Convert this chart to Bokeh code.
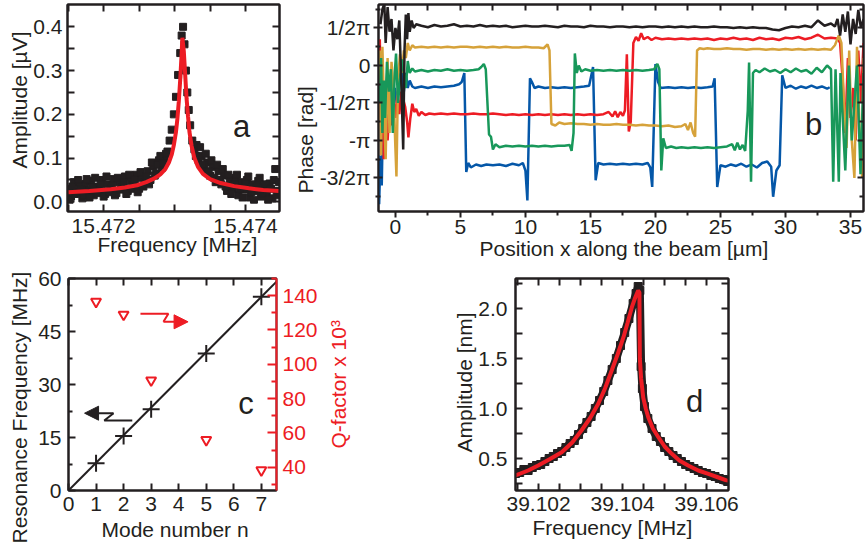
import numpy as np
from bokeh.plotting import figure
from bokeh.layouts import column, row
from bokeh.models import Range1d, LinearAxis, FixedTicker, PrintfTickFormatter, Label, Arrow, NormalHead, Title
from bokeh.embed import file_html
from bokeh.resources import INLINE

FONT = "Liberation Sans"
INK = "#231f20"
RED = "#ed1c24"
GOLD = "#d6a23a"
GREEN = "#18985a"
BLUE = "#0557a8"

# ---------------- data: panel a (mode 2 resonance) ----------------
points_a = [
    (15.47150, 0.030), (15.47154, 0.012), (15.47158, 0.045), (15.47162, 0.022), (15.47166, 0.038),
    (15.47170, 0.008), (15.47174, 0.041), (15.47178, 0.025), (15.47182, 0.048), (15.47186, 0.015),
    (15.47190, 0.035), (15.47194, 0.028), (15.47198, 0.050), (15.47202, 0.018), (15.47206, 0.040),
    (15.47210, 0.030), (15.47214, 0.052), (15.47218, 0.020), (15.47222, 0.045), (15.47226, 0.033),
    (15.47230, 0.058), (15.47234, 0.025), (15.47238, 0.048), (15.47242, 0.038), (15.47246, 0.062),
    (15.47250, 0.030), (15.47254, 0.055), (15.47258, 0.045), (15.47262, 0.070), (15.47266, 0.050),
    (15.47270, 0.082), (15.47274, 0.065), (15.47278, 0.095), (15.47282, 0.078), (15.47286, 0.100),
    (15.47290, 0.115), (15.47293, 0.140), (15.47296, 0.165), (15.47299, 0.200), (15.47302, 0.240),
    (15.47305, 0.290), (15.47308, 0.340), (15.47310, 0.380), (15.47312, 0.400), (15.47314, 0.360),
    (15.47316, 0.300), (15.47318, 0.250), (15.47320, 0.210), (15.47322, 0.175), (15.47325, 0.140),
    (15.47328, 0.120), (15.47331, 0.130), (15.47334, 0.095), (15.47338, 0.105), (15.47342, 0.075),
    (15.47346, 0.090), (15.47350, 0.060), (15.47354, 0.080), (15.47358, 0.045), (15.47362, 0.070),
    (15.47366, 0.040), (15.47370, 0.060), (15.47374, 0.025), (15.47378, 0.050), (15.47382, 0.030),
    (15.47386, 0.055), (15.47390, 0.015), (15.47394, 0.045), (15.47398, 0.028), (15.47402, 0.050),
    (15.47406, 0.010), (15.47410, 0.040), (15.47414, 0.025), (15.47418, 0.048), (15.47422, 0.012),
    (15.47426, 0.035), (15.47430, 0.020), (15.47434, 0.042), (15.47438, 0.008), (15.47442, 0.075),
    (15.47446, 0.025),
    (15.47152, 0.005), (15.47156, 0.035), (15.47160, 0.018), (15.47164, 0.050), (15.47168, 0.028),
    (15.47172, 0.015), (15.47176, 0.052), (15.47180, 0.010), (15.47184, 0.032), (15.47188, 0.055),
    (15.47192, 0.020), (15.47196, 0.040), (15.47200, 0.012), (15.47204, 0.058), (15.47208, 0.022),
    (15.47212, 0.038), (15.47216, 0.015), (15.47220, 0.055), (15.47224, 0.028), (15.47228, 0.045),
    (15.47232, 0.018), (15.47236, 0.062), (15.47240, 0.030), (15.47244, 0.050), (15.47248, 0.022),
    (15.47252, 0.068), (15.47256, 0.035), (15.47260, 0.058), (15.47264, 0.040), (15.47268, 0.090),
    (15.47272, 0.060), (15.47276, 0.085), (15.47280, 0.105), (15.47284, 0.088), (15.47288, 0.110),
    (15.47330, 0.105), (15.47336, 0.125), (15.47340, 0.085), (15.47344, 0.110), (15.47348, 0.070),
    (15.47352, 0.095), (15.47356, 0.055), (15.47360, 0.085), (15.47364, 0.050), (15.47368, 0.075),
    (15.47372, 0.035), (15.47376, 0.062), (15.47380, 0.018), (15.47384, 0.040), (15.47388, 0.062),
    (15.47392, 0.030), (15.47396, 0.010), (15.47400, 0.042), (15.47404, 0.058), (15.47408, 0.022),
    (15.47412, 0.005), (15.47416, 0.035), (15.47420, 0.055), (15.47424, 0.018), (15.47428, 0.040),
    (15.47432, 0.005), (15.47436, 0.030), (15.47440, 0.050), (15.47444, 0.015), (15.47447, 0.045),
]
fit_a = [
    (15.47150, 0.022), (15.47180, 0.025), (15.47210, 0.029), (15.47230, 0.033), (15.47247, 0.038),
    (15.47260, 0.045), (15.47271, 0.053), (15.47280, 0.063), (15.47287, 0.075), (15.47292, 0.090),
    (15.47296, 0.108), (15.47299, 0.130), (15.47302, 0.160), (15.47304, 0.190), (15.47306, 0.230),
    (15.47308, 0.280), (15.47310, 0.340), (15.47311, 0.375), (15.47313, 0.345), (15.47315, 0.290),
    (15.47317, 0.235), (15.47319, 0.195), (15.47321, 0.160), (15.47324, 0.128), (15.47328, 0.100),
    (15.47333, 0.080), (15.47340, 0.064), (15.47350, 0.052), (15.47365, 0.043), (15.47384, 0.036),
    (15.47405, 0.031), (15.47425, 0.027), (15.47447, 0.025),
]

# ---------------- data: panel b (phase along the beam, in units of pi) ----------------
black_b = [
    (-1.15, 0.55), (-1.0, 0.75), (-0.85, 0.82), (-0.75, 0.3), (-0.6, 0.78), (-0.45, 0.45), (-0.3, 0.62),
    (-0.15, 0.2), (0.0, 0.5), (0.15, 0.35), (0.3, 0.6), (0.45, -0.2), (0.6, -1.12), (0.7, 0.2), (0.8, 0.68),
    (0.9, 0.35), (1.0, 0.7), (1.1, 0.45), (1.25, 0.6), (1.4, 0.5), (1.6, 0.55),
    (2.0, 0.53), (2.5, 0.51), (3.0, 0.54), (3.5, 0.52), (4.0, 0.53), (4.5, 0.55), (5.0, 0.52), (5.5, 0.53),
    (6.0, 0.52), (6.5, 0.54), (7.0, 0.52), (7.5, 0.53), (8.0, 0.52), (8.5, 0.53), (9.0, 0.51), (9.5, 0.52),
    (10.0, 0.53), (10.5, 0.52), (11.0, 0.52), (11.5, 0.53), (12.0, 0.52), (12.5, 0.51), (13.0, 0.53),
    (13.5, 0.52), (14.0, 0.52), (14.5, 0.51), (15.0, 0.53), (15.5, 0.52), (16.0, 0.52), (16.5, 0.51),
    (17.0, 0.52), (17.5, 0.52), (18.0, 0.51), (18.5, 0.52), (19.0, 0.51), (19.5, 0.52), (20.0, 0.52),
    (20.5, 0.51), (21.0, 0.52), (21.5, 0.51), (22.0, 0.52), (22.5, 0.51), (23.0, 0.52), (23.5, 0.51),
    (24.0, 0.51), (24.5, 0.52), (25.0, 0.51), (25.5, 0.51), (26.0, 0.50), (26.5, 0.51), (27.0, 0.50),
    (27.5, 0.51), (28.0, 0.50), (28.5, 0.50), (29.0, 0.48), (29.5, 0.47), (30.0, 0.50), (30.5, 0.52),
    (31.0, 0.51), (31.5, 0.53), (32.0, 0.51), (32.5, 0.60), (33.0, 0.53), (33.5, 0.56),
    (33.8, 0.52), (34.0, 0.62), (34.2, 0.40), (34.4, 0.68), (34.6, 0.45), (34.8, 0.72), (35.0, 0.28),
    (35.2, 0.62), (35.4, 0.42), (35.6, 0.74), (35.8, 0.50), (36.0, 0.62),
]
red_b = [
    (-1.2, 0.35), (-1.1, -0.8), (-1.0, 0.05), (-0.9, -1.25), (-0.75, -0.45), (-0.6, -1.0), (-0.45, -0.55),
    (-0.3, -0.8), (-0.15, -0.45), (0.0, -0.7), (0.15, -0.4), (0.3, -0.65), (0.45, -0.35), (0.6, -0.45),
    (0.75, -0.55), (0.9, -0.75), (1.0, -0.96), (1.15, -0.7), (1.3, -0.51), (1.45, -0.62), (1.6, -0.58),
    (1.8, -0.67), (2.0, -0.62), (2.3, -0.66), (2.6, -0.64),
    (3.0, -0.65), (3.5, -0.64), (4.0, -0.65), (4.5, -0.64), (5.0, -0.65), (5.5, -0.65), (6.0, -0.64),
    (6.5, -0.65), (7.0, -0.65), (7.5, -0.64), (8.0, -0.65), (8.5, -0.66), (9.0, -0.65), (9.5, -0.66),
    (10.0, -0.65), (10.5, -0.66), (11.0, -0.65), (11.5, -0.66), (12.0, -0.65), (12.5, -0.66), (13.0, -0.65),
    (13.5, -0.66), (14.0, -0.65), (14.5, -0.66), (15.0, -0.65), (15.5, -0.66), (16.0, -0.65), (16.4, -0.62),
    (16.7, -0.68), (16.9, -0.61), (17.1, -0.69), (17.3, -0.62), (17.5, -0.67), (17.65, -0.60), (17.8, 0.15),
    (17.95, -0.88), (18.1, -0.75), (18.3, 0.30), (18.5, 0.38), (18.7, 0.33), (18.9, 0.43), (19.1, 0.35),
    (19.4, 0.38), (19.7, 0.34), (20.0, 0.37), (20.5, 0.35), (21.0, 0.36), (21.5, 0.35), (22.0, 0.36),
    (22.5, 0.35), (23.0, 0.36), (23.5, 0.35), (24.0, 0.36), (24.5, 0.34), (25.0, 0.36), (25.5, 0.35),
    (26.0, 0.37), (26.5, 0.35), (27.0, 0.36), (27.5, 0.34), (28.0, 0.37), (28.5, 0.35), (29.0, 0.36),
    (29.5, 0.34), (30.0, 0.37), (30.5, 0.36), (31.0, 0.38), (31.5, 0.35), (32.0, 0.37), (32.5, 0.41),
    (33.0, 0.36), (33.5, 0.37), (34.0, 0.36),
    (34.2, 0.30), (34.4, -0.2), (34.6, -0.9), (34.8, 0.1), (35.0, -0.7), (35.2, -0.3), (35.4, -1.0),
    (35.6, 0.2), (35.8, -0.5), (36.0, 0.3),
]
gold_b = [
    (-1.2, 0.2), (-1.1, -1.2), (-1.0, 0.25), (-0.9, -0.4), (-0.75, -1.25), (-0.6, 0.1), (-0.45, -0.9),
    (-0.3, 0.05), (-0.15, -0.3), (0.0, -1.1), (0.08, -1.48), (0.2, -0.2), (0.35, 0.15), (0.5, -0.1),
    (0.65, 0.2), (0.8, 0.1), (0.95, 0.3), (1.1, 0.2), (1.3, 0.27), (1.5, 0.24),
    (2.0, 0.25), (2.5, 0.24), (3.0, 0.25), (3.5, 0.24), (4.0, 0.25), (4.5, 0.24), (5.0, 0.25), (5.5, 0.25),
    (6.0, 0.24), (6.5, 0.25), (7.0, 0.24), (7.5, 0.25), (8.0, 0.24), (8.5, 0.25), (9.0, 0.24), (9.5, 0.24),
    (10.0, 0.25), (10.5, 0.24), (11.0, 0.24), (11.4, 0.23), (11.7, 0.28), (11.85, 0.2), (12.0, -0.78),
    (12.3, -0.80), (12.6, -0.76), (13.0, -0.78), (13.5, -0.77), (14.0, -0.78), (14.5, -0.78), (15.0, -0.79),
    (15.5, -0.78), (16.0, -0.79), (16.5, -0.79), (17.0, -0.78), (17.5, -0.79), (18.0, -0.79), (18.5, -0.80),
    (19.0, -0.79), (19.5, -0.80), (20.0, -0.80), (20.5, -0.81), (21.0, -0.80), (21.5, -0.82), (22.0, -0.81),
    (22.3, -0.78), (22.5, -0.86), (22.7, -0.76), (22.9, -0.90), (23.05, -0.95), (23.2, 0.2), (23.4, 0.23),
    (23.7, 0.22), (24.0, 0.23), (24.5, 0.22), (25.0, 0.22), (25.5, 0.23), (26.0, 0.22), (26.5, 0.22),
    (27.0, 0.21), (27.5, 0.22), (28.0, 0.22), (28.5, 0.21), (29.0, 0.22), (29.5, 0.21), (30.0, 0.22),
    (30.5, 0.21), (31.0, 0.22), (31.5, 0.21), (32.0, 0.22), (32.5, 0.21), (33.0, 0.22), (33.5, 0.21),
    (33.8, 0.27), (34.1, 0.40), (34.3, 0.30), (34.5, -0.5), (34.7, -1.1), (34.9, 0.2), (35.1, -1.0),
    (35.3, -1.5), (35.5, 0.25), (35.7, -0.9), (35.9, -1.5), (36.0, 0.1),
]
green_b = [
    (-1.2, -0.5), (-1.1, 0.1), (-1.0, -0.9), (-0.9, -0.2), (-0.8, -0.7), (-0.65, 0.05), (-0.5, -0.35),
    (-0.35, -0.05), (-0.2, -0.9), (-0.05, -0.1), (0.05, 0.16), (0.2, -0.5), (0.35, -0.2), (0.5, 0.08),
    (0.65, -0.1), (0.8, -0.3), (0.95, 0.06), (1.1, -0.1), (1.3, -0.04), (1.5, -0.08),
    (2.0, -0.06), (2.5, -0.08), (3.0, -0.06), (3.5, -0.07), (4.0, -0.05), (4.5, -0.07), (5.0, -0.06),
    (5.5, -0.07), (6.0, -0.06), (6.4, -0.05), (6.6, -0.02), (6.8, 0.02), (6.95, -0.05), (7.05, -0.4),
    (7.2, -0.92), (7.35, -0.95), (7.5, -1.12), (7.7, -1.05), (8.0, -1.09), (8.5, -1.07), (9.0, -1.08),
    (9.5, -1.07), (10.0, -1.08), (10.5, -1.07), (11.0, -1.08), (11.5, -1.07), (12.0, -1.08), (12.5, -1.07),
    (13.0, -1.07), (13.4, -1.06), (13.55, -1.14), (13.7, -0.9), (13.8, 0.16), (13.95, -0.1), (14.1, 0.0),
    (14.3, -0.08), (14.6, -0.05), (15.0, -0.07), (15.5, -0.06), (16.0, -0.07), (16.5, -0.06), (17.0, -0.07),
    (17.5, -0.06), (18.0, -0.07), (18.5, -0.06), (19.0, -0.07), (19.5, -0.06), (19.9, -0.05), (20.15, 0.02),
    (20.3, -0.05), (20.45, -1.40), (20.6, -0.97), (20.8, -1.1), (21.2, -1.08), (21.6, -1.10), (22.0, -1.09),
    (22.5, -1.10), (23.0, -1.09), (23.5, -1.10), (24.0, -1.09), (24.5, -1.10), (25.0, -1.09), (25.5, -1.08),
    (25.9, -1.05), (26.1, -1.13), (26.3, -1.03), (26.5, -1.12), (26.7, -1.06), (26.9, -1.14), (27.1, -0.6),
    (27.2, 0.04), (27.35, -1.55), (27.5, -0.1), (27.7, -0.06), (28.0, -0.09), (28.4, -0.04), (28.8, -0.08),
    (29.2, -0.06), (29.6, -0.10), (30.0, -0.05), (30.4, -0.09), (30.8, -0.04), (31.2, -0.08), (31.6, -0.06),
    (32.0, -0.11), (32.4, -0.03), (32.8, -0.09), (33.2, 0.0), (33.5, -0.05),
    (33.67, -1.55), (33.85, -0.05), (34.1, -1.55), (34.23, -0.1), (34.6, -1.4), (34.87, 0.0), (35.1, -1.0),
    (35.5, 0.0), (35.77, -1.45), (36.0, -0.1),
]
blue_b = [
    (-1.25, -1.85), (-1.15, -1.2), (-1.05, -1.6), (-0.95, -0.6), (-0.8, -1.0), (-0.65, -0.4), (-0.5, -0.8),
    (-0.35, -0.2), (-0.2, -0.6), (-0.05, -0.3), (0.1, -0.5), (0.3, -0.15), (0.5, -0.07), (0.65, -0.35),
    (0.8, -0.1), (0.95, -0.3), (1.1, -0.2), (1.3, -0.28), (1.5, -0.3),
    (2.0, -0.28), (2.5, -0.30), (3.0, -0.28), (3.5, -0.29), (4.0, -0.28), (4.5, -0.27), (4.9, -0.25),
    (5.1, -0.22), (5.3, -0.10), (5.45, -1.42), (5.6, -1.30), (5.8, -1.36), (6.2, -1.32), (6.6, -1.34),
    (7.0, -1.32), (7.5, -1.33), (8.0, -1.32), (8.5, -1.34), (9.0, -1.31), (9.5, -1.33), (9.8, -1.30),
    (10.0, -1.40), (10.15, -1.80), (10.35, -0.17), (10.5, -0.22), (10.7, -0.30), (11.0, -0.28), (11.5, -0.30),
    (12.0, -0.29), (12.5, -0.30), (13.0, -0.29), (13.5, -0.30), (14.0, -0.29), (14.5, -0.28), (14.9, -0.27),
    (15.2, -0.02), (15.4, -1.53), (15.6, -1.30), (16.0, -1.32), (16.5, -1.31), (17.0, -1.32), (17.5, -1.31),
    (18.0, -1.32), (18.5, -1.31), (19.0, -1.32), (19.4, -1.30), (19.6, -1.36), (19.75, -1.62), (20.0, 0.02),
    (20.2, -0.22), (20.4, -0.30), (21.0, -0.29), (21.5, -0.30), (22.0, -0.29), (22.5, -0.30), (23.0, -0.29),
    (23.5, -0.30), (24.0, -0.29), (24.4, -0.28), (24.55, -0.17), (24.75, -1.62), (25.0, -1.33), (25.4, -1.35),
    (25.8, -1.32), (26.2, -1.34), (26.6, -1.31), (27.0, -1.35), (27.4, -1.32), (27.8, -1.36), (28.2, -1.30),
    (28.6, -1.28), (28.9, -1.35), (29.05, -1.75), (29.3, -1.40), (29.55, -1.33), (29.75, -0.13), (30.0, -0.30),
    (30.4, -0.27), (30.8, -0.31), (31.2, -0.28), (31.6, -0.30), (32.0, -0.27), (32.4, -0.30), (32.8, -0.28),
    (33.2, -0.31), (33.4, -0.29),
]
phase_tick_labels = {0.5: "1/2\u03c0", 0.0: "0", -0.5: "-1/2\u03c0", -1.0: "-\u03c0", -1.5: "-3/2\u03c0"}

# ---------------- data: panel c (mode number) ----------------
mode_n = [1, 2, 3, 5, 7]
res_freq = [7.7, 15.4, 23.0, 38.8, 54.8]
q_factor = [136.5, 129.0, 90.7, 56.0, 38.3]
fit_c_n = [0.0, 7.55]
fit_c_f = [0.0, 59.1]

# ---------------- data: panel d (mode 5, nonlinear) ----------------
points_d = [
    (39.10145, 0.35), (39.10155, 0.36), (39.10165, 0.39), (39.10175, 0.38), (39.10185, 0.41),
    (39.10195, 0.43), (39.10205, 0.44), (39.10215, 0.47), (39.10225, 0.50), (39.10235, 0.52),
    (39.10245, 0.55), (39.10255, 0.57), (39.10265, 0.61), (39.10275, 0.65), (39.10285, 0.68),
    (39.10295, 0.74), (39.10305, 0.80), (39.10315, 0.86), (39.10325, 0.92), (39.10335, 1.00),
    (39.10345, 1.08), (39.10355, 1.17), (39.10365, 1.28), (39.10375, 1.39), (39.10385, 1.50),
    (39.10395, 1.63), (39.10405, 1.76), (39.10415, 1.90), (39.10425, 2.05), (39.10432, 2.15),
    (39.10437, 2.22), (39.10441, 2.18), (39.10444, 1.42), (39.10447, 1.20), (39.10452, 1.02),
    (39.10460, 0.90), (39.10470, 0.80), (39.10480, 0.72), (39.10490, 0.67), (39.10500, 0.61),
    (39.10510, 0.57), (39.10520, 0.53), (39.10530, 0.50), (39.10540, 0.47), (39.10550, 0.44),
    (39.10560, 0.42), (39.10570, 0.40), (39.10580, 0.38), (39.10590, 0.36), (39.10600, 0.35),
    (39.10610, 0.33), (39.10620, 0.32), (39.10630, 0.30), (39.10640, 0.29), (39.10650, 0.27),
]
fit_d = [
    (39.10145, 0.33), (39.10175, 0.38), (39.10199, 0.43), (39.10225, 0.49), (39.10255, 0.563),
    (39.10280, 0.66), (39.10302, 0.78), (39.10322, 0.90), (39.10342, 1.047), (39.10358, 1.20),
    (39.10374, 1.38), (39.10388, 1.54), (39.10402, 1.713), (39.10412, 1.86), (39.10422, 2.013),
    (39.10430, 2.11), (39.10437, 2.18), (39.10440, 2.16), (39.10441, 1.50), (39.10444, 1.30),
    (39.10449, 1.11), (39.10455, 1.00), (39.10461, 0.913), (39.10472, 0.80), (39.10485, 0.713),
    (39.10500, 0.62), (39.10517, 0.547), (39.10535, 0.48), (39.10556, 0.43), (39.10580, 0.38),
    (39.10604, 0.347), (39.10628, 0.31), (39.10652, 0.273),
]

# ---------------- axis ranges and ticks ----------------
A_X, A_Y = (15.47149, 15.47448), (-0.022, 0.451)
B_X, B_Y = (-1.3, 36.0), (-1.947, 0.813)
C_X, C_Y, C_Q = (0.0, 7.55), (0.0, 60.0), (26.5, 150.0)
D_X, D_Y = (39.10145, 39.10652), (0.18, 2.30)

a_xticks, a_xminor = [15.472, 15.474], [15.4715, 15.4725, 15.473, 15.4735, 15.4745]
a_yticks, a_yminor = [0.0, 0.1, 0.2, 0.3, 0.4], [0.05, 0.15, 0.25, 0.35]
b_xticks, b_xminor = [0, 5, 10, 15, 20, 25, 30, 35], [2.5, 7.5, 12.5, 17.5, 22.5, 27.5, 32.5]
b_yticks, b_yminor = [0.5, 0.0, -0.5, -1.0, -1.5], [0.75, 0.25, -0.25, -0.75, -1.25, -1.75]
c_xticks = [0, 1, 2, 3, 4, 5, 6, 7]
c_yticks, c_yminor = [0, 15, 30, 45, 60], [7.5, 22.5, 37.5, 52.5]
c_qticks, c_qminor = [40, 60, 80, 100, 120, 140], [30, 50, 70, 90, 110, 130, 150]
d_xticks = [39.102, 39.104, 39.106]
d_xminor = [39.1015, 39.1025, 39.103, 39.1035, 39.1045, 39.105, 39.1055]
d_yticks, d_yminor = [0.5, 1.0, 1.5, 2.0], [0.25, 0.75, 1.25, 1.75, 2.25]

# frames in page pixels: left, top, width, height (used to place the panel letters / arrows)
FRAMES = {
    "a": (67, 3, 212, 212, A_X, A_Y),
    "b": (378, 4, 485, 207, B_X, B_Y),
    "c": (67, 278, 211, 212, C_X, C_Y),
    "d": (515, 278, 213, 212, D_X, D_Y),
}


def to_data(key, X, Y):
    left, top, w, h, xr, yr = FRAMES[key]
    return (xr[0] + (X - left) / w * (xr[1] - xr[0]),
            yr[1] - (Y - top) / h * (yr[1] - yr[0]))


def make_fig(w, h, l, r, t, b, xr, yr):
    p = figure(width=w, height=h, x_range=Range1d(*xr), y_range=Range1d(*yr),
               output_backend="svg", toolbar_location=None,
               min_border_left=l, min_border_right=r, min_border_top=t, min_border_bottom=b)
    p.xgrid.visible = False
    p.ygrid.visible = False
    p.outline_line_color = INK
    p.outline_line_width = 2
    p.background_fill_color = "white"
    p.border_fill_color = "white"
    return p


def style_axis(ax, ticks, minor=(), labels=True, fmt=None, tin=7, tout=0, min_in=None, min_out=0,
               color=INK, standoff=7, overrides=None):
    ax.ticker = FixedTicker(ticks=list(ticks), minor_ticks=list(minor))
    ax.axis_label = None
    ax.axis_line_width = 2
    ax.axis_line_color = color
    ax.major_tick_line_width = 2
    ax.major_tick_line_color = color
    ax.minor_tick_line_width = 2
    ax.minor_tick_line_color = color
    ax.major_tick_in = tin
    ax.major_tick_out = tout
    ax.minor_tick_in = tin if min_in is None else min_in
    ax.minor_tick_out = min_out
    if labels:
        ax.major_label_text_font = FONT
        ax.major_label_text_font_size = "21px"
        ax.major_label_text_color = color
        ax.major_label_standoff = standoff
        if fmt:
            ax.formatter = PrintfTickFormatter(format=fmt)
        if overrides:
            ax.major_label_overrides = overrides
    else:
        ax.major_label_text_font_size = "1px"
        ax.major_label_text_color = None
        ax.major_label_standoff = 0


def add_title(p, side, text, offset=0, standoff=0, color=INK):
    # align="left": the text starts `offset` px from the frame's left (below) / bottom (left) edge
    p.add_layout(Title(text=text, align="left", offset=offset, standoff=standoff,
                       vertical_align="bottom", text_font=FONT, text_font_size="21px",
                       text_font_style="normal", text_color=color), side)


def add_text(p, key, X, Y, text, size="31px"):
    x, y = to_data(key, X, Y)
    p.add_layout(Label(x=x, y=y, text=text, text_font=FONT, text_font_size=size,
                       text_color=INK, text_align="center", text_baseline="middle"))


# ---------------- panel a ----------------
pa = make_fig(290, 266, 67, 11, 3, 51, A_X, A_Y)
pa.scatter([q[0] for q in points_a], [q[1] for q in points_a], marker="square", size=7, color=INK)
pa.line([q[0] for q in fit_a], [q[1] for q in fit_a], line_color=RED, line_width=4)
style_axis(pa.xaxis[0], a_xticks, a_xminor, fmt="%.3f", standoff=7)
style_axis(pa.yaxis[0], a_yticks, a_yminor, fmt="%.1f", standoff=5)
ta = LinearAxis(); style_axis(ta, a_xticks, a_xminor, labels=False); pa.add_layout(ta, "above")
ra = LinearAxis(); style_axis(ra, a_yticks, a_yminor, labels=False); pa.add_layout(ra, "right")
add_title(pa, "left", "Amplitude [\u00b5V]", offset=43)
add_title(pa, "below", "Frequency [MHz]", offset=30, standoff=-10)
add_text(pa, "a", 241, 128, "a")

# ---------------- panel b ----------------
pb = make_fig(575, 266, 88, 2, 4, 55, B_X, B_Y)
for trace, col in [(blue_b, BLUE), (red_b, RED), (gold_b, GOLD), (green_b, GREEN), (black_b, INK)]:
    pb.line([q[0] for q in trace], [q[1] for q in trace], line_color=col, line_width=2.5)
style_axis(pb.xaxis[0], b_xticks, b_xminor, tin=0, tout=6, min_in=0, min_out=4, standoff=2)
style_axis(pb.yaxis[0], b_yticks, b_yminor, tin=4, tout=5, min_in=2, min_out=3, standoff=3,
           overrides=phase_tick_labels)
tb = LinearAxis(); style_axis(tb, b_xticks, b_xminor, labels=False, tin=6, min_in=6); pb.add_layout(tb, "above")
rb = LinearAxis(); style_axis(rb, b_yticks, b_yminor, labels=False, tin=6, min_in=4); pb.add_layout(rb, "right")
add_title(pb, "left", "Phase [rad]", offset=18)
add_title(pb, "below", "Position x along the beam [\u00b5m]", offset=101, standoff=-4)
add_text(pb, "b", 813, 124, "b")

# ---------------- panel c ----------------
pc = make_fig(320, 286, 67, 42, 12, 62, C_X, C_Y)
pc.extra_y_ranges = {"q": Range1d(*C_Q)}
pc.line(fit_c_n, fit_c_f, line_color=INK, line_width=2)
pc.scatter(mode_n, res_freq, marker="cross", size=17, line_color=INK, line_width=2)
pc.scatter(mode_n, q_factor, y_range_name="q", marker="inverted_triangle", size=10,
           line_color=RED, fill_color="white", line_width=2)
style_axis(pc.xaxis[0], c_xticks, [], fmt="%d", standoff=6)
style_axis(pc.yaxis[0], c_yticks, c_yminor, fmt="%d", min_in=4, standoff=7)
tc = LinearAxis(); style_axis(tc, c_xticks, [], labels=False); pc.add_layout(tc, "above")
rc = LinearAxis(y_range_name="q")
style_axis(rc, c_qticks, c_qminor, fmt="%d", tin=9, min_in=5, color=RED, standoff=6)
pc.add_layout(rc, "right")
add_title(pc, "left", "Resonance Frequency [MHz]", offset=-53, standoff=10)
add_title(pc, "below", "Mode number n", offset=33, standoff=4)
add_text(pc, "c", 247, 403, "c")
# zig-zag arrows pointing to each axis (page-pixel paths)
black_arrow = [(131.7, 420.0), (103.3, 420.0), (112.7, 412.7), (83.3, 412.7)]
red_arrow = [(140.0, 313.3), (168.3, 313.3), (163.3, 321.3), (188.3, 321.3)]
for path, col in [(black_arrow, INK), (red_arrow, RED)]:
    pts = [to_data("c", X, Y) for X, Y in path]
    pc.line([q[0] for q in pts[:3]], [q[1] for q in pts[:3]], line_color=col, line_width=2)
    pc.add_layout(Arrow(x_start=pts[2][0], y_start=pts[2][1], x_end=pts[3][0], y_end=pts[3][1],
                        line_color=col, line_width=2,
                        end=NormalHead(size=14, fill_color=col, line_color=col)))

# narrow strip carrying the red right-hand axis title of panel c (reads bottom-to-top)
pq = figure(width=31, height=286, x_axis_type=None, y_axis_type=None, output_backend="svg",
            toolbar_location=None, min_border_left=29, min_border_right=0,
            min_border_top=12, min_border_bottom=62)
pq.outline_line_color = None
pq.border_fill_color = "white"
pq.background_fill_color = "white"
add_title(pq, "left", "Q-factor x 10\u00b3", offset=42, color=RED)

# ---------------- panel d ----------------
pd_ = make_fig(514, 286, 164, 137, 12, 62, D_X, D_Y)
pd_.line([q[0] for q in points_d], [q[1] for q in points_d], line_color=INK, line_width=8)
pd_.scatter([q[0] for q in points_d], [q[1] for q in points_d], marker="square", size=8, color=INK)
pd_.line([q[0] for q in fit_d], [q[1] for q in fit_d], line_color=RED, line_width=4)
style_axis(pd_.xaxis[0], d_xticks, d_xminor, fmt="%.3f", standoff=6)
style_axis(pd_.yaxis[0], d_yticks, d_yminor, fmt="%.1f", standoff=8)
td = LinearAxis(); style_axis(td, d_xticks, d_xminor, labels=False); pd_.add_layout(td, "above")
rd = LinearAxis(); style_axis(rd, d_yticks, d_yminor, labels=False); pd_.add_layout(rd, "right")
add_title(pd_, "left", "Amplitude [nm]", offset=38)
add_title(pd_, "below", "Frequency [MHz]", offset=17, standoff=0)
add_text(pd_, "d", 694, 401, "d")

layout = column(row(pa, pb), row(pc, pq, pd_))
open("out.html", "w").write(file_html(layout, INLINE))
